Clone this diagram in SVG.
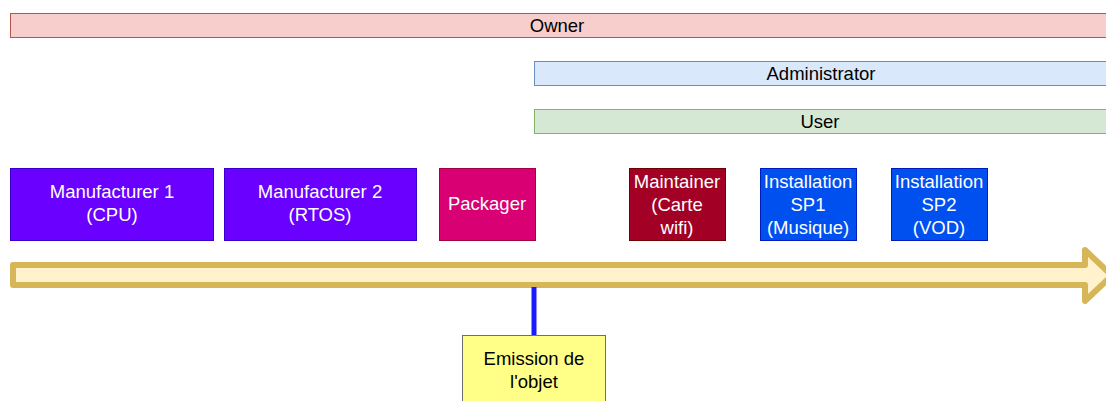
<svg xmlns="http://www.w3.org/2000/svg" width="1106" height="401" viewBox="0 0 1106 401">
<style>
text{font-family:"Liberation Sans",Arial,sans-serif;font-size:18.5px;text-anchor:middle}
.dark{fill:#000}
.light{fill:#fff}
.mf{fill:#6a00ff;stroke:#3700cc}
.inst{fill:#0050ef;stroke:#001dbc}
</style>
<rect width="1106" height="401" fill="#fff"/>
<g id="owner">
<rect x="10.5" y="13.5" width="1100" height="24" fill="#f8cecc" stroke="#b85450"/>
<text class="dark" x="557" y="31.5">Owner</text>
</g>
<g id="administrator">
<rect x="534.5" y="61.5" width="580" height="24" fill="#dae8fc" stroke="#6c8ebf"/>
<text class="dark" x="821" y="79.5">Administrator</text>
</g>
<g id="user">
<rect x="534.5" y="109.5" width="580" height="24" fill="#d5e8d4" stroke="#82b366"/>
<text class="dark" x="820" y="127.5">User</text>
</g>
<g id="timeline">
<path d="M13,265 H1085 V250 L1112,275.5 L1085,301 V285 H13 Z" fill="#fff2cc" stroke="#d6b656" stroke-width="6" stroke-linejoin="round"/>
</g>
<g id="connectors">
<line x1="534" y1="287" x2="534" y2="335" stroke="#1a1aff" stroke-width="5"/>
</g>
<g id="manufacturer1">
<rect class="mf" x="10.5" y="168.5" width="203" height="72"/>
<text class="light" x="112" y="198">Manufacturer 1</text>
<text class="light" x="112" y="221">(CPU)</text>
</g>
<g id="manufacturer2">
<rect class="mf" x="224.5" y="168.5" width="192" height="72"/>
<text class="light" x="320" y="198">Manufacturer 2</text>
<text class="light" x="320" y="221">(RTOS)</text>
</g>
<g id="packager">
<rect x="439.5" y="168.5" width="96" height="72" fill="#d80073" stroke="#a50040"/>
<text class="light" x="487" y="210">Packager</text>
</g>
<g id="maintainer">
<rect x="629.5" y="168.5" width="96" height="72" fill="#a20025" stroke="#6f0000"/>
<text class="light" x="677" y="188">Maintainer</text>
<text class="light" x="677" y="211">(Carte</text>
<text class="light" x="677" y="234">wifi)</text>
</g>
<g id="sp1">
<rect class="inst" x="760.5" y="168.5" width="96" height="72"/>
<text class="light" x="808" y="188">Installation</text>
<text class="light" x="808" y="211">SP1</text>
<text class="light" x="808" y="234">(Musique)</text>
</g>
<g id="sp2">
<rect class="inst" x="891.5" y="168.5" width="96" height="72"/>
<text class="light" x="939" y="188">Installation</text>
<text class="light" x="939" y="211">SP2</text>
<text class="light" x="939" y="234">(VOD)</text>
</g>
<g id="emission">
<rect x="462.5" y="335.5" width="143" height="80" fill="#ffff88" stroke="#6e6e6e"/>
<text class="dark" x="534" y="365">Emission de</text>
<text class="dark" x="534" y="388">l'objet</text>
</g>
</svg>
